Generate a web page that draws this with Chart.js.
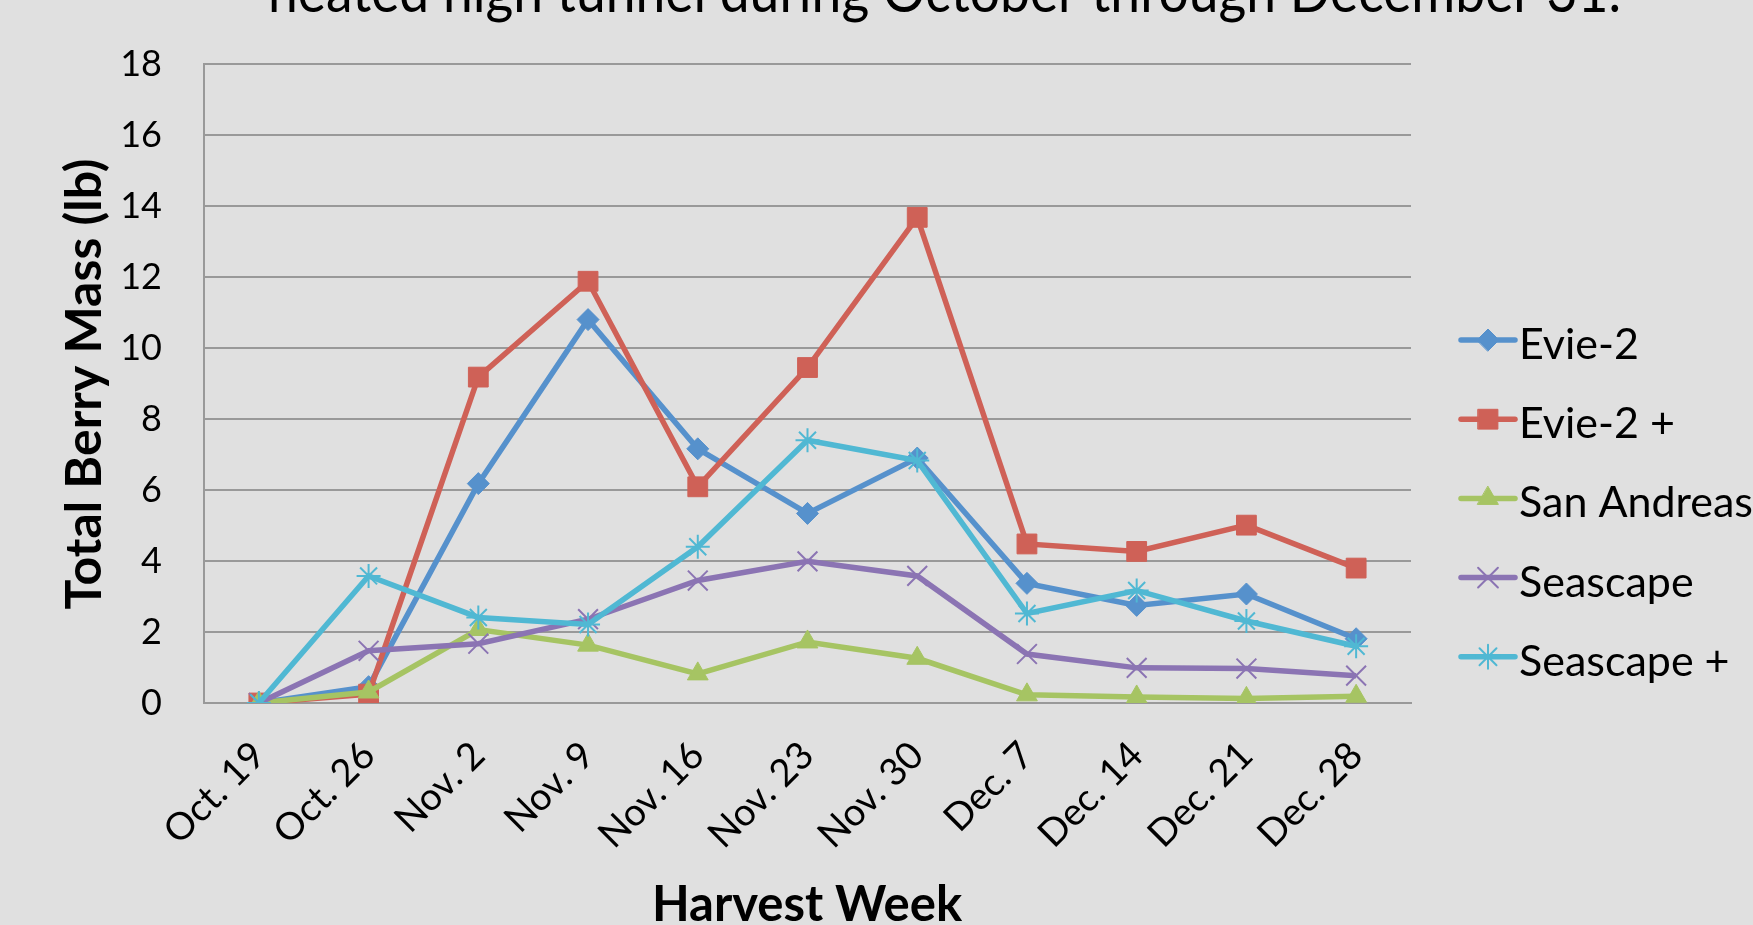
<!DOCTYPE html>
<html>
<head>
<meta charset="utf-8">
<script src="https://cdn.jsdelivr.net/npm/chart.js@4.4.1/dist/chart.umd.min.js"></script>
<style>
  html, body { margin: 0; padding: 0; background: #e0e0e0; }
  #wrap { width: 1753px; height: 925px; position: relative; }
</style>
</head>
<body>
<div id="wrap"><canvas id="c" width="1753" height="925"></canvas></div>
<script>
// ---- data ----
const categories = ['Oct. 19','Oct. 26','Nov. 2','Nov. 9','Nov. 16','Nov. 23','Nov. 30','Dec. 7','Dec. 14','Dec. 21','Dec. 28'];
const seriesNames = ['Evie-2', 'Evie-2 +', 'San Andreas', 'Seascape', 'Seascape +'];
const evie2        = [0, 0.46, 6.18, 10.8, 7.16, 5.34, 6.9, 3.37, 2.75, 3.07, 1.81];
const evie2Plus    = [0, 0.25, 9.18, 11.88, 6.09, 9.45, 13.68, 4.48, 4.27, 5.01, 3.8];
const sanAndreas   = [0, 0.31, 2.07, 1.63, 0.82, 1.72, 1.26, 0.23, 0.17, 0.13, 0.19];
const seascape     = [0, 1.47, 1.67, 2.36, 3.45, 3.99, 3.58, 1.38, 0.99, 0.97, 0.77];
const seascapePlus = [0, 3.58, 2.41, 2.21, 4.4, 7.4, 6.83, 2.52, 3.17, 2.31, 1.6];
const yTicks = [0, 2, 4, 6, 8, 10, 12, 14, 16, 18];
const titleText = 'heated high tunnel during October through December 31.';
const yTitle = 'Total Berry Mass (lb)';
const xTitle = 'Harvest Week';

// ---- styles ----
const colors = ['#5691cc', '#cf6157', '#a6c463', '#8b74b3', '#50b8d3'];
const styles = ['rectRot', 'rect', 'triangle', 'crossRot', 'star'];
const radii  = [11, 14, 12, 14, 12];
const values = [evie2, evie2Plus, sanAndreas, seascape, seascapePlus];

const datasets = values.map((v, i) => ({
  label: seriesNames[i],
  data: v,
  borderColor: colors[i],
  backgroundColor: colors[i],
  borderWidth: 5.5,
  pointStyle: styles[i],
  pointRadius: radii[i],
  pointHoverRadius: radii[i],
  pointBackgroundColor: colors[i],
  pointBorderColor: colors[i],
  pointBorderWidth: (styles[i] === 'crossRot' || styles[i] === 'star') ? 2 : 1,
  tension: 0,
  order: 5 - i
}));

const decor = {
  id: 'decor',
  afterDraw(chart) {
    const ctx = chart.ctx;
    ctx.save();
    // title (cut off at the top)
    ctx.fillStyle = '#000';
    ctx.font = '58px Lato';
    ctx.textBaseline = 'alphabetic';
    ctx.textAlign = 'left';
    const w = ctx.measureText(titleText).width;
    const target = 1353;
    ctx.save();
    ctx.translate(268, 12);
    ctx.scale(target / w, 1);
    ctx.fillText(titleText, 0, 0);
    ctx.restore();

    // y title
    ctx.save();
    ctx.font = 'bold 50px Lato';
    ctx.textAlign = 'center';
    ctx.textBaseline = 'alphabetic';
    ctx.translate(101, 384);
    ctx.rotate(-Math.PI / 2);
    ctx.fillText(yTitle, 0, 0);
    ctx.restore();

    // x title
    ctx.font = 'bold 49px Lato';
    ctx.textAlign = 'center';
    ctx.textBaseline = 'alphabetic';
    ctx.fillText(xTitle, 807, 921);

    // legend
    ctx.font = '43px Lato';
    ctx.textAlign = 'left';
    chart.data.datasets.forEach((ds, i) => {
      const y = 340 + i * 79.2;
      ctx.strokeStyle = ds.borderColor;
      ctx.lineWidth = 5.5;
      ctx.lineCap = 'round';
      ctx.beginPath();
      ctx.moveTo(1461, y);
      ctx.lineTo(1515, y);
      ctx.stroke();
      ctx.save();
      ctx.fillStyle = ds.pointBackgroundColor;
      ctx.strokeStyle = ds.pointBorderColor;
      ctx.lineWidth = ds.pointBorderWidth;
      Chart.helpers.drawPoint(ctx, { pointStyle: ds.pointStyle, rotation: 0, borderWidth: ds.pointBorderWidth, radius: ds.pointRadius }, 1488, y);
      ctx.restore();
      ctx.fillStyle = '#000';
      ctx.fillText(ds.label, 1519, y + 19);
    });
    ctx.restore();
  }
};

new Chart(document.getElementById('c'), {
  type: 'line',
  data: { labels: categories, datasets },
  options: {
    responsive: false,
    devicePixelRatio: 1,
    animation: false,
    events: [],
    layout: { padding: { left: 0, top: 64, right: 342, bottom: 0 } },
    plugins: { legend: { display: false }, title: { display: false }, tooltip: { enabled: false } },
    scales: {
      x: {
        offset: true,
        grid: { display: false, drawTicks: false },
        border: { display: true, color: '#999999', width: 2 },
        ticks: {
          autoSkip: false, maxRotation: 45, minRotation: 45,
          font: { family: 'Lato', size: 38 }, color: '#000', padding: 30
        },
        afterFit(s) { s.height = 222; }
      },
      y: {
        min: 0, max: 18,
        afterBuildTicks(s) { s.ticks = yTicks.map(v => ({ value: v })); },
        grid: { color: '#999999', lineWidth: 2, drawTicks: false },
        border: { display: true, color: '#999999', width: 2 },
        ticks: { font: { family: 'Lato', size: 36 }, color: '#000', padding: 42 },
        afterFit(s) { s.width = 204; }
      }
    }
  },
  plugins: [decor]
});
</script>
</body>
</html>
